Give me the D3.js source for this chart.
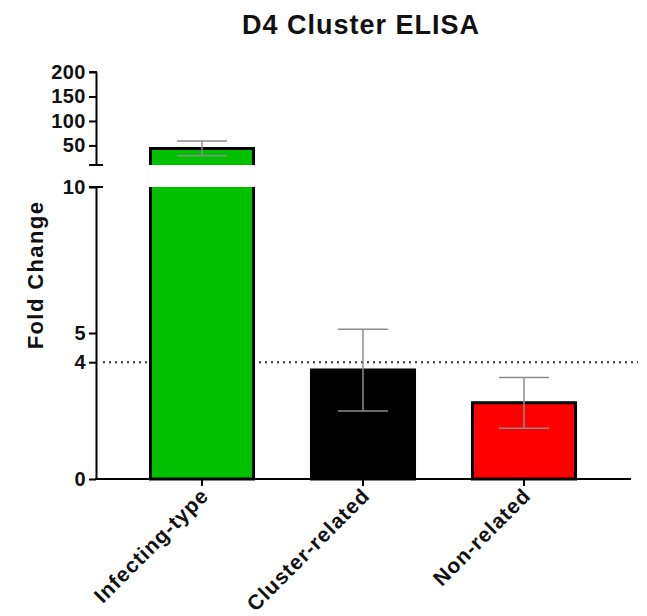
<!DOCTYPE html>
<html>
<head>
<meta charset="utf-8">
<script src="https://cdn.jsdelivr.net/npm/d3@7"></script>
<style>
  html, body { margin: 0; padding: 0; background: #fff; }
  svg { display: block; }
  text { font-family: "Liberation Sans", Arial, Helvetica, sans-serif; font-weight: bold; fill: #111; }
</style>
</head>
<body>
<script>
// Fold change per antigen group (mean ± SD)
const categories = ["Infecting-type", "Cluster-related", "Non-related"];
const means = [43.8, 3.73, 2.61];
const sds = [15.0, 1.40, 0.87];
const barColors = ["#00c000", "#000000", "#ff0000"];

// Broken y axis: lower segment and upper segment
const lowerTicks = [0, 4, 5, 10];
const upperTicks = [50, 100, 150, 200];
const lowerDomain = [0, 10];
const upperDomain = [10, 200];
const thresholdValue = 4;

const W = 647, H = 616;
const svg = d3.select("body").append("svg").attr("width", W).attr("height", H);

const axisX = 96;
const yLow = d3.scaleLinear().domain(lowerDomain).range([479, 187]);
const yHigh = d3.scaleLinear().domain(upperDomain).range([165, 72]);
const x = d3.scaleBand().domain(categories).range([121.5, 604.5])
  .paddingInner(0.36).paddingOuter(0.18);

// Title
svg.append("text")
  .attr("x", 361).attr("y", 34)
  .attr("text-anchor", "middle")
  .style("font-size", "27px").style("letter-spacing", "1px")
  .text("D4 Cluster ELISA");

// Y axis title
svg.append("text")
  .attr("transform", "translate(43,275) rotate(-90)")
  .attr("text-anchor", "middle")
  .style("font-size", "22px").style("letter-spacing", "1.4px")
  .text("Fold Change");

// Dotted threshold line (behind the bars)
svg.append("line")
  .attr("x1", 103).attr("x2", 638)
  .attr("y1", yLow(thresholdValue)).attr("y2", yLow(thresholdValue))
  .attr("stroke", "#333").attr("stroke-width", 2)
  .attr("stroke-dasharray", "2,4");

// Bars, drawn per axis segment
const bw = x.bandwidth();
const sw = 3;
categories.forEach((c, i) => {
  const x0 = x(c), x1 = x0 + bw;
  const v = means[i];
  // lower segment
  const topLow = Math.min(v, lowerDomain[1]);
  const yb = yLow(0), yt = yLow(topLow);
  svg.append("rect").attr("x", x0).attr("y", yt).attr("width", bw).attr("height", yb - yt)
    .attr("fill", barColors[i]);
  const pLow = d3.path();
  pLow.moveTo(x0, yt); pLow.lineTo(x0, yb); pLow.lineTo(x1, yb); pLow.lineTo(x1, yt);
  if (v <= lowerDomain[1]) pLow.closePath();
  svg.append("path").attr("d", pLow.toString()).attr("fill", "none")
    .attr("stroke", "#000").attr("stroke-width", sw);
  // upper segment
  if (v > upperDomain[0]) {
    const yb2 = yHigh(upperDomain[0]), yt2 = yHigh(v);
    svg.append("rect").attr("x", x0).attr("y", yt2).attr("width", bw).attr("height", yb2 - yt2)
      .attr("fill", barColors[i]);
    const pUp = d3.path();
    pUp.moveTo(x0, yb2); pUp.lineTo(x0, yt2); pUp.lineTo(x1, yt2); pUp.lineTo(x1, yb2);
    svg.append("path").attr("d", pUp.toString()).attr("fill", "none")
      .attr("stroke", "#000").attr("stroke-width", sw);
  }
});

// Error bars (mean ± SD)
const yAny = v => v > upperDomain[0] ? yHigh(v) : yLow(v);
const capW = 50;
categories.forEach((c, i) => {
  const cx = x(c) + bw / 2;
  const lo = means[i] - sds[i], hi = means[i] + sds[i];
  const g = svg.append("g").attr("stroke", "#8c8c8c").attr("stroke-width", 1.5);
  g.append("line").attr("x1", cx).attr("x2", cx).attr("y1", yAny(lo)).attr("y2", yAny(hi));
  [lo, hi].forEach(v => {
    g.append("line").attr("x1", cx - capW / 2).attr("x2", cx + capW / 2)
      .attr("y1", yAny(v)).attr("y2", yAny(v));
  });
});

// Y axes
function styleAxis(g) {
  g.select(".domain").attr("stroke", "#000").attr("stroke-width", 2);
  g.selectAll(".tick line").attr("stroke", "#000").attr("stroke-width", 2);
  g.selectAll(".tick text").style("font-size", "20px").style("letter-spacing", "0.5px")
    .attr("font-family", null).attr("fill", null);
}
const gLow = svg.append("g").attr("transform", `translate(${axisX},0)`)
  .call(d3.axisLeft(yLow).tickValues(lowerTicks).tickSize(7).tickSizeOuter(0).tickPadding(3));
styleAxis(gLow);
const gHigh = svg.append("g").attr("transform", `translate(${axisX},0)`)
  .call(d3.axisLeft(yHigh).tickValues(upperTicks).tickSize(7).tickSizeOuter(0).tickPadding(3));
styleAxis(gHigh);

// Break marks at the segment ends
[yHigh(upperDomain[0]), yLow(lowerDomain[1])].forEach(yy => {
  svg.append("line").attr("x1", axisX - 7).attr("x2", axisX + 7)
    .attr("y1", yy).attr("y2", yy).attr("stroke", "#000").attr("stroke-width", 2);
});
// top tick cap of upper segment
svg.append("line").attr("x1", axisX - 7).attr("x2", axisX + 1)
  .attr("y1", yHigh(upperDomain[1])).attr("y2", yHigh(upperDomain[1]))
  .attr("stroke", "#000").attr("stroke-width", 2);

// X axis
const gx = svg.append("g").attr("transform", `translate(0,${yLow(0)})`);
gx.append("line").attr("x1", axisX - 1).attr("x2", 631).attr("y1", 0).attr("y2", 0)
  .attr("stroke", "#000").attr("stroke-width", 2);
categories.forEach(c => {
  const cx = x(c) + bw / 2;
  gx.append("line").attr("x1", cx).attr("x2", cx).attr("y1", 0).attr("y2", 7)
    .attr("stroke", "#000").attr("stroke-width", 2);
  gx.append("text")
    .attr("transform", `translate(${cx + 8},${18}) rotate(-45)`)
    .attr("text-anchor", "end")
    .style("font-size", "21px").style("letter-spacing", "1px")
    .text(c);
});
</script>
</body>
</html>
